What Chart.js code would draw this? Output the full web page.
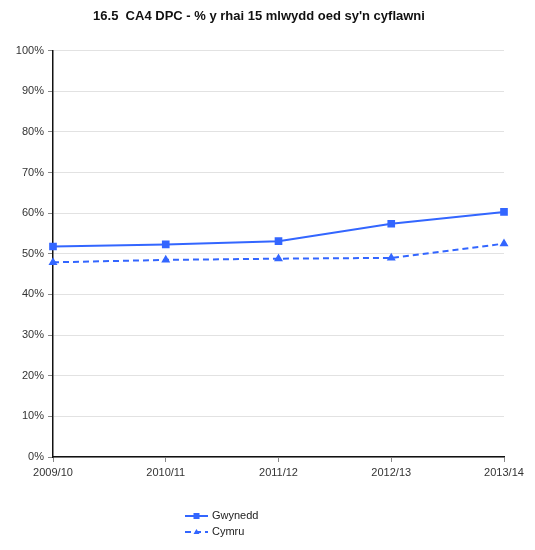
<!DOCTYPE html>
<html>
<head>
<meta charset="utf-8">
<script src="https://cdn.jsdelivr.net/npm/chart.js@4/dist/chart.umd.min.js"></script>
<style>
  html, body { margin: 0; padding: 0; background: #fff; }
  #wrap { position: relative; width: 535px; height: 550px; }
</style>
</head>
<body>
<div id="wrap"><canvas id="c" width="535" height="550"></canvas></div>
<script>
const titleText = "16.5  CA4 DPC - % y rhai 15 mlwydd oed sy'n cyflawni";
const categories = ["2009/10", "2010/11", "2011/12", "2012/13", "2013/14"];
const gwynedd = [51.8, 52.3, 53.1, 57.4, 60.3];
const cymru = [47.9, 48.5, 48.8, 49.0, 52.5];
const seriesNames = ["Gwynedd", "Cymru"];

const BLUE = '#3366ff';

const legendPlugin = {
  id: 'vlegend',
  afterDraw(chart) {
    const ctx = chart.ctx;
    const x0 = 185, y0 = 516, gap = 16;
    ctx.save();
    chart.data.datasets.forEach((ds, i) => {
      const y = y0 + i * gap;
      ctx.strokeStyle = ds.borderColor;
      ctx.lineWidth = 2;
      ctx.setLineDash(ds.borderDash || []);
      ctx.beginPath();
      ctx.moveTo(x0, y);
      ctx.lineTo(x0 + 23, y);
      ctx.stroke();
      ctx.setLineDash([]);
      ctx.fillStyle = ds.borderColor;
      const cx = x0 + 11.5;
      if (ds.pointStyle === 'rect') {
        ctx.fillRect(cx - 3, y - 3, 6, 6);
      } else {
        ctx.beginPath();
        ctx.moveTo(cx, y - 3);
        ctx.lineTo(cx + 3, y + 2);
        ctx.lineTo(cx - 3, y + 2);
        ctx.closePath();
        ctx.fill();
      }
      ctx.fillStyle = '#222';
      ctx.font = '11px "Liberation Sans", Arial, sans-serif';
      ctx.textBaseline = 'middle';
      ctx.textAlign = 'left';
      ctx.fillText(ds.label, x0 + 27, y);
    });
    ctx.restore();
  }
};

new Chart(document.getElementById('c'), {
  type: 'line',
  data: {
    labels: categories,
    datasets: [
      {
        label: seriesNames[0],
        data: gwynedd,
        borderColor: BLUE,
        backgroundColor: BLUE,
        borderWidth: 2,
        pointStyle: 'rect',
        pointRadius: 4,
        pointHoverRadius: 4,
        tension: 0,
        fill: false
      },
      {
        label: seriesNames[1],
        data: cymru,
        borderColor: BLUE,
        backgroundColor: BLUE,
        borderWidth: 2,
        borderDash: [6, 4],
        pointStyle: 'triangle',
        pointRadius: 3.2,
        pointHoverRadius: 3.2,
        tension: 0,
        fill: false
      }
    ]
  },
  options: {
    responsive: false,
    animation: false,
    layout: { padding: { left: 14, right: 31, top: 9, bottom: 66 } },
    plugins: {
      legend: { display: false },
      tooltip: { enabled: false },
      title: {
        display: true,
        text: titleText,
        color: '#111',
        font: { family: '"Liberation Sans", Arial, sans-serif', size: 13, weight: 'bold' },
        padding: { top: 0, bottom: 26 }
      }
    },
    scales: {
      x: {
        offset: false,
        border: { display: true, color: '#111', width: 1.5 },
        grid: { display: true, drawOnChartArea: false, drawTicks: true, tickLength: 5, tickColor: '#888' },
        ticks: {
          color: '#333',
          font: { family: '"Liberation Sans", Arial, sans-serif', size: 11 },
          padding: 4,
          maxRotation: 0,
          autoSkip: false
        },
        afterFit(scale) { scale.height = 27; }
      },
      y: {
        min: 0,
        max: 100,
        border: { display: true, color: '#111', width: 1.5 },
        grid: { color: '#e2e2e2', lineWidth: 1, tickLength: 5, tickColor: '#888' },
        ticks: {
          stepSize: 10,
          color: '#333',
          font: { family: '"Liberation Sans", Arial, sans-serif', size: 11 },
          padding: 4,
          callback: v => v + '%'
        },
        afterFit(scale) { scale.width = 39; }
      }
    }
  },
  plugins: [legendPlugin]
});
</script>
</body>
</html>
